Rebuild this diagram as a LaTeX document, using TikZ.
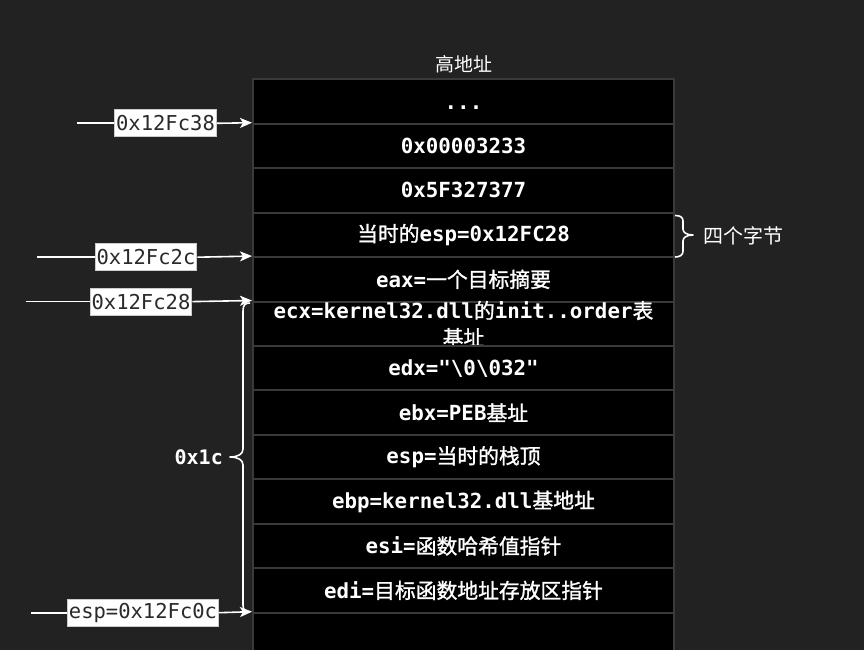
\documentclass[tikz,border=0pt]{standalone}
\usepackage{fontspec}
\setmonofont{DejaVu Sans Mono}
\newfontfamily\cjk{Noto Sans CJK SC}
\newfontfamily\cjkmed[FakeBold=1.3]{Noto Sans CJK SC}
\newcommand{\cj}[1]{{\cjkmed\mdseries #1}}
\usetikzlibrary{arrows.meta}
\definecolor{bgc}{HTML}{222222}
\definecolor{cellline}{HTML}{3A3A3A}
\definecolor{addrtext}{HTML}{2A2A2A}
\tikzset{
  cellbox/.style={draw=cellline, fill=black, line width=2pt, minimum width=421pt, minimum height=44.45pt, inner sep=0pt},
  celltext/.style={text=white, font=\ttfamily\bfseries\fontsize{20.8}{27}\selectfont, align=center, inner sep=0pt},
  addr/.style={fill=white, draw=white!80!black, line width=0.8pt, text=addrtext, font=\ttfamily\fontsize{20.5}{21}\selectfont, inner xsep=1.5pt, inner ysep=0pt, minimum height=27pt},
  ptr/.style={draw=white, line width=1.6pt, -{Stealth[length=12pt,width=10pt,inset=3pt]}},
  lead/.style={draw=white, line width=1.6pt},
  bracepath/.style={draw=white, line width=1.6pt, line join=round},
  plain/.style={text=white, inner sep=0pt}
}
\begin{document}
\begin{tikzpicture}[x=1pt,y=-1pt]
\useasboundingbox (0,0) rectangle (864,650);
\fill[bgc] (0,0) rectangle (864,650);
\begin{scope}
\clip (0,0) rectangle (864,650);
\foreach \i/\t in {0/{\vphantom{0}...},
  1/{0x00003233},
  2/{0x5F327377},
  3/{\cj{当时的}esp=0x12FC28},
  4/{eax=\cj{一个目标摘要}},
  5/{ecx=kernel32.dll\cj{的}init..order\cj{表}\\\cj{基址}},
  6/{edx="\textbackslash 0\textbackslash 032"},
  7/{ebx=PEB\cj{基址}},
  8/{esp=\cj{当时的栈顶}},
  9/{ebp=kernel32.dll\cj{基地址}},
  10/{esi=\cj{函数哈希值指针}},
  11/{edi=\cj{目标函数地址存放区指针}},
  12/{}}{
  \node[cellbox] (r\i) at (463.5, 101.5+44.45*\i) {};
  \node[celltext] (t\i) at (r\i) {\t};
}
\end{scope}

% title
\node[plain, font=\cjk\fontsize{19}{19}\selectfont] (top) at (463.5,64) {高地址};

% address pointers
\coordinate (s1) at (77,123.3);
\coordinate (s2) at (37,257.2);
\coordinate (s3) at (26,301.6);
\coordinate (s4) at (31,612.7);
\node[addr] (a1) at (165.5,123.3) {0x12Fc38};
\node[addr] (a2) at (146,257.2) {0x12Fc2c};
\node[addr] (a3) at (141,301.6) {0x12Fc28};
\node[addr] (a4) at (143,612.7) {esp=0x12Fc0c};

% left brace 0x1c
\draw[bracepath] (250,303) .. controls (245,303) and (243,305) .. (243,311)
  -- (243,449) .. controls (243,454) and (238,457) .. (230,457)
  .. controls (238,457) and (243,460) .. (243,465)
  -- (243,605) .. controls (243,610) and (245,612) .. (250,612);
\node[plain, font=\ttfamily\bfseries\fontsize{20}{20}\selectfont, anchor=east] (len) at (223,457) {0x1c};

\draw[lead] (s1) -- (a1.west);
\draw[ptr] (a1.east) -- (r1.north west);
\draw[lead] (s2) -- (a2.west);
\draw[ptr] (a2.east) -- (r4.north west);
\draw[lead] (s3) -- (a3.west);
\draw[ptr] (a3.east) -- (r5.north west);
\draw[lead] (s4) -- (a4.west);
\draw[ptr] (a4.east) -- (r12.north west);

% right brace 4 bytes
\draw[bracepath] (675,215.5) .. controls (680,215.5) and (683,217) .. (683,221)
  -- (683,229) .. controls (683,232) and (686,235) .. (693,235)
  .. controls (686,235) and (683,238) .. (683,241)
  -- (683,251) .. controls (683,255) and (680,257) .. (675,257);
\node[plain, font=\cjk\fontsize{20}{20}\selectfont, anchor=west] (four) at (703,236) {四个字节};
\end{tikzpicture}
\end{document}
